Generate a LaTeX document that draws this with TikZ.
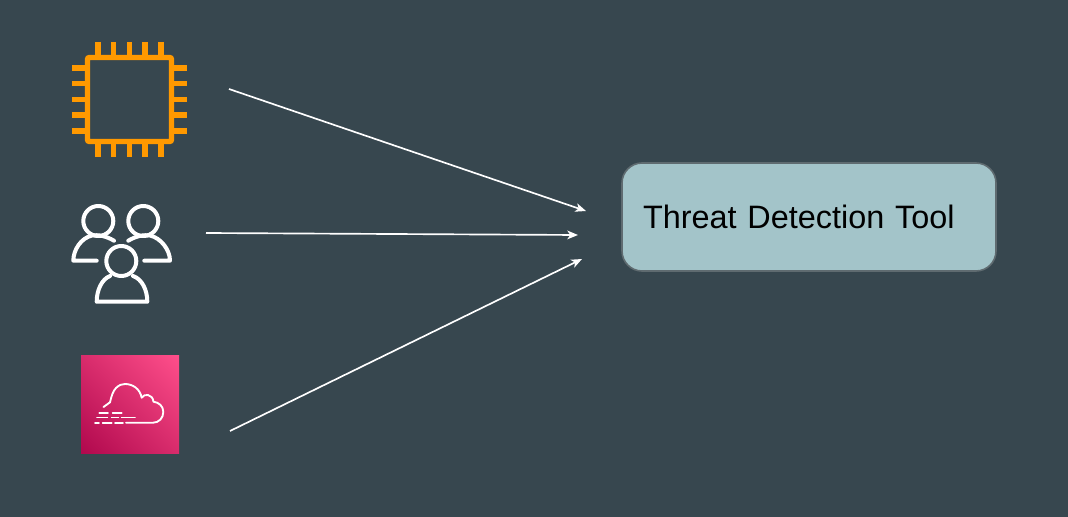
\documentclass[tikz,border=0pt]{standalone}
\usepackage{fontspec}
\setmainfont{Liberation Sans}
\usetikzlibrary{arrows.meta,shadings}
\definecolor{bgcol}{HTML}{37474F}
\definecolor{chipcol}{HTML}{FF9900}
\definecolor{boxcol}{HTML}{A3C4C9}
\definecolor{boxline}{HTML}{5F6B70}
\definecolor{tilelow}{HTML}{B0084D}
\definecolor{tilehigh}{HTML}{FF4F8B}
\definecolor{tilemid}{HTML}{D82C6C}
\tikzset{
  chipline/.style={draw=chipcol,line width=4.1pt},
  userline/.style={draw=white,line width=3pt,line cap=round,line join=round},
  cloudline/.style={draw=white,line width=1.4pt,line cap=round,line join=round},
  feedarrow/.style={draw=white,line width=1.25pt,-{Stealth[length=8pt,width=6.5pt,inset=2.2pt]}},
  toolbox/.style={draw=boxline,line width=1.2pt,fill=boxcol,rounded corners=15pt,minimum height=81pt,outer sep=0pt,
    inner xsep=15.75pt,inner ysep=0pt,text width=249pt,align=left,font=\fontsize{24.3}{28}\selectfont}
}
\begin{document}
\begin{tikzpicture}[x=.75pt,y=-.75pt]
\fill[bgcol](0,0) rectangle (1068,517);
% chip
\draw[chipline,rounded corners=1.5pt](87.5,57.5) rectangle (171.5,141.5);
\foreach \p in {98,113.7,129.3,145,161}{
  \draw[chipline](\p,42)--(\p,55);\draw[chipline](\p,144)--(\p,157);
}
\foreach \p in {68,83.7,99.3,115,131}{
  \draw[chipline](72,\p)--(85,\p);\draw[chipline](174,\p)--(187,\p);
}
% users
\draw[userline](98.3,221) circle(15);\draw[userline](143.3,221) circle(15);\draw[userline](121.3,261) circle(15);
\draw[userline](114,240.7) .. controls (106,236) and (98,234.5) .. (92,235.5) .. controls (81,238) and (73.3,250) .. (73.3,260.7) -- (96.7,260.7);
\draw[userline](128.3,240.7) .. controls (136,236) and (144,234.5) .. (150,235.5) .. controls (161,238) and (170,250) .. (170,260.7) -- (144.3,260.7);
\draw[userline](110,276) .. controls (102,279) and (96.7,290) .. (96.7,301.7) -- (147.3,301.7) .. controls (147.3,290) and (142,279) .. (133,276);
% cloud tile
\shade[lower left=tilelow,upper right=tilehigh,upper left=tilemid,lower right=tilemid](81,355) rectangle (179,453);
\draw[cloudline](103.5,407) -- (110,402.3) .. controls (111.5,396) and (113,391) .. (116,388) .. controls (119,385) and (122,384) .. (125,384) .. controls (133,384) and (140,389) .. (141.7,397.7) .. controls (143,395.5) and (145.5,394.5) .. (148,395) .. controls (151,395.5) and (153,398) .. (153.5,401.7) .. controls (159,402.5) and (163.3,406) .. (163.3,412) .. controls (163.3,418) and (159,422.7) .. (153,422.7) -- (126,422.7);
\draw[cloudline](99.3,412.7)--(108,412.7) (112.7,412.7)--(121.7,412.7);
\draw[cloudline](97,417.5)--(107.3,417.5) (111.7,417.5)--(118.3,417.5) (121.7,417.5)--(135,417.5);
\draw[cloudline](95,422.7)--(99,422.7) (102.7,422.7)--(111.7,422.7) (115,422.7)--(123,422.7);
% connectors
\node[toolbox,anchor=west](tool) at (622,217){Threat Detection Tool};
\coordinate(chipout) at (229,89);\coordinate(chipin) at (586,211);
\coordinate(userout) at (206,233);\coordinate(userin) at (578,235);
\coordinate(cloudout) at (230,431);\coordinate(cloudin) at (582,259);
\draw[feedarrow](chipout)--(chipin);
\draw[feedarrow](userout)--(userin);
\draw[feedarrow](cloudout)--(cloudin);
\end{tikzpicture}
\end{document}
